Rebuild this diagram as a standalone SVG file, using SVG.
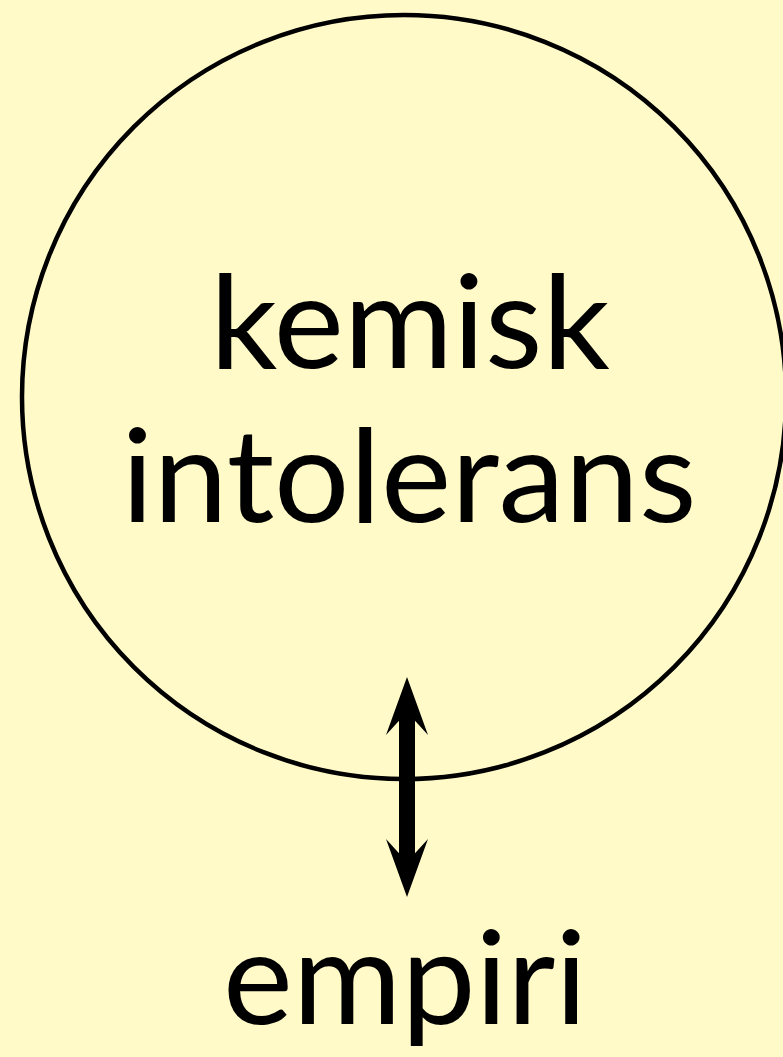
<svg xmlns="http://www.w3.org/2000/svg" width="783" height="1057" viewBox="0 0 783 1057">
<style>
.bg{fill:#FFFAC8}
.node{fill:none;stroke:#000;stroke-width:4.5}
.lbl{font-family:Lato,"Open Sans","DejaVu Sans",sans-serif;font-size:130px;fill:#000;text-anchor:middle}
.conn{stroke:#000;stroke-width:16;fill:none}
</style>
<defs>
<marker id="ah" markerUnits="userSpaceOnUse" markerWidth="58" markerHeight="42" viewBox="0 0 58 42" refX="36" refY="21" orient="auto-start-reverse">
<path d="M0,0 L58,21 L0,42 L23,21 Z" fill="#000"/>
</marker>
</defs>
<rect class="bg" x="0" y="0" width="783" height="1057"/>
<g id="node-kemisk-intolerans">
<circle class="node" cx="404" cy="397" r="382"/>
<text class="lbl" x="410" y="368" textLength="400" lengthAdjust="spacingAndGlyphs">kemisk</text>
<text class="lbl" x="409" y="522" textLength="575" lengthAdjust="spacingAndGlyphs">intolerans</text>
</g>
<g id="node-empiri">
<text class="lbl" x="405" y="1024" textLength="364" lengthAdjust="spacingAndGlyphs">empiri</text>
</g>
<g id="connectors">
<line class="conn" x1="407" y1="699" x2="407" y2="875" marker-start="url(#ah)" marker-end="url(#ah)"/>
</g>
</svg>
